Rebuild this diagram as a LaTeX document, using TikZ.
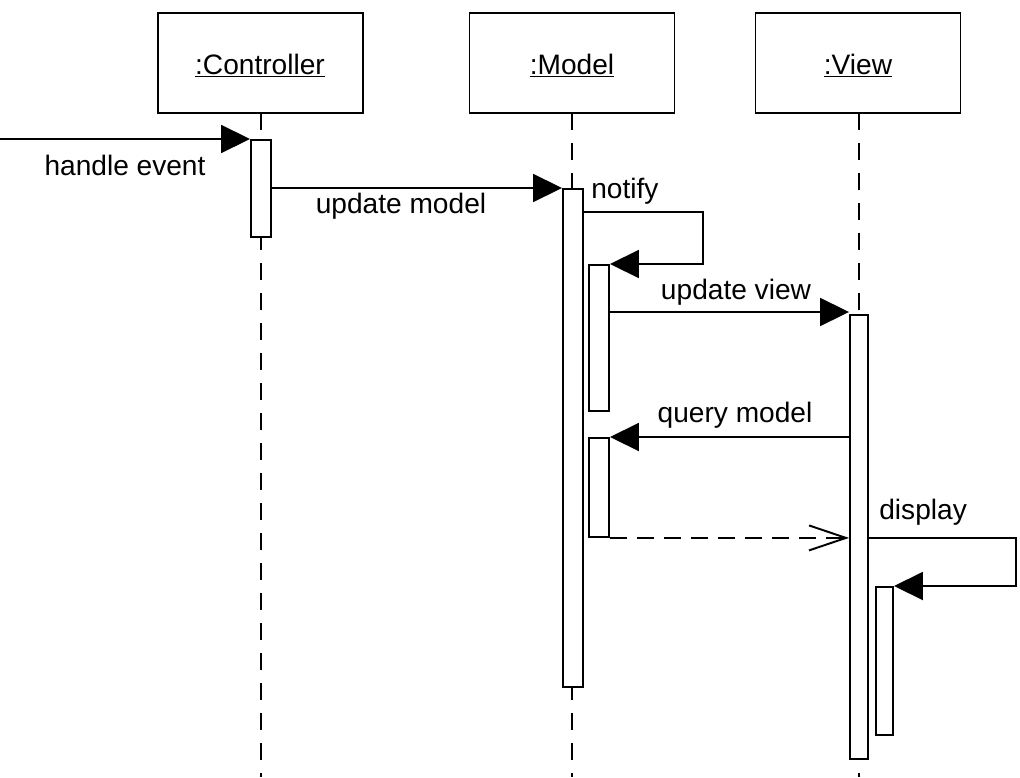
\documentclass[tikz,border=0pt]{standalone}
\usepackage{fontspec}
\setsansfont{Liberation Sans}
\usepackage{tikz}
\usetikzlibrary{arrows.meta,positioning,calc}
\definecolor{ink}{HTML}{000000}
\definecolor{paper}{HTML}{FFFFFF}
\tikzset{
  objbox/.style={draw=ink,fill=paper,line width=1.1pt,minimum width=4.1cm,
                 minimum height=2cm,inner sep=0pt},
  actbar/.style={draw=ink,fill=paper,line width=1.1pt,minimum width=0.4cm,
                 inner sep=0pt,anchor=north},
  lifeline/.style={draw=ink,line width=1.1pt,dash pattern=on 3.4mm off 2.6mm},
  callarr/.style={-{Triangle[length=5.8mm,width=5.6mm]},line width=1.1pt,
                  draw=ink},
  retarr/.style={-{Straight Barb[length=7.4mm,width=5mm]},line width=1.1pt,
                 draw=ink,dash pattern=on 3.4mm off 2mm},
  msglabel/.style={anchor=base,inner sep=0pt,font=\sffamily\fontsize{16}{19}\selectfont}
}
\begin{document}
\begin{tikzpicture}[x=0.02cm,y=-0.02cm]
    \path[use as bounding box,fill=paper] (0,0) rectangle (1020,777);

    \node[objbox] (ctrl) at (260.5,63) {};
    \node[objbox] (model) at (572,63) {};
    \node[objbox] (view) at (858,63) {};
    \node[msglabel] at (260,74) {\underline{:Controller}};
    \node[msglabel] at (572,74) {\underline{:Model}};
    \node[msglabel] at (858,74) {\underline{:View}};

    % lifelines
    \draw[lifeline] (261,113) -- (261,777);
    \draw[lifeline] (572,113) -- (572,777);
    \draw[lifeline] (859,113) -- (859,777);

    % activations
    \node[actbar,minimum height=1.94cm] (cbar) at (261,139) {};
    \node[actbar,minimum height=9.96cm] (mbar) at (573,188) {};
    \node[actbar,minimum height=2.92cm] (nbar1) at (599,264) {};
    \node[actbar,minimum height=1.98cm] (nbar2) at (599,437) {};
    \node[actbar,minimum width=0.36cm,minimum height=8.88cm] (vbar) at (859,314) {};
    \node[actbar,minimum width=0.34cm,minimum height=2.96cm] (nbar3) at (884.5,586) {};

    \coordinate (start) at (0,139);
    \draw[callarr] (start) -- (cbar.north west);
    \node[msglabel] at (125,175) {handle event};

    \draw[callarr] (cbar.east |- 0,188) -- (mbar.north west);
    \node[msglabel] at (401,213) {update model};

    \draw[callarr] (mbar.east |- 0,212) -- ++(119,0) |- (nbar1.north east);
    \node[msglabel,anchor=base west] at (591,198) {notify};

    \draw[callarr] (nbar1.east |- 0,312) -- (vbar.west |- 0,312);
    \node[msglabel] at (736,299) {update view};

    \draw[callarr] (vbar.west |- nbar2.north) -- (nbar2.north east);
    \node[msglabel] at (735,422) {query model};

    \draw[retarr] (nbar2.south east) -- (vbar.west |- nbar2.south);

    \draw[callarr] (vbar.east |- nbar2.south) -- ++(147,0) |- (nbar3.north east);
    \node[msglabel,anchor=base west] at (879,519) {display};
  \end{tikzpicture}
\end{document}
